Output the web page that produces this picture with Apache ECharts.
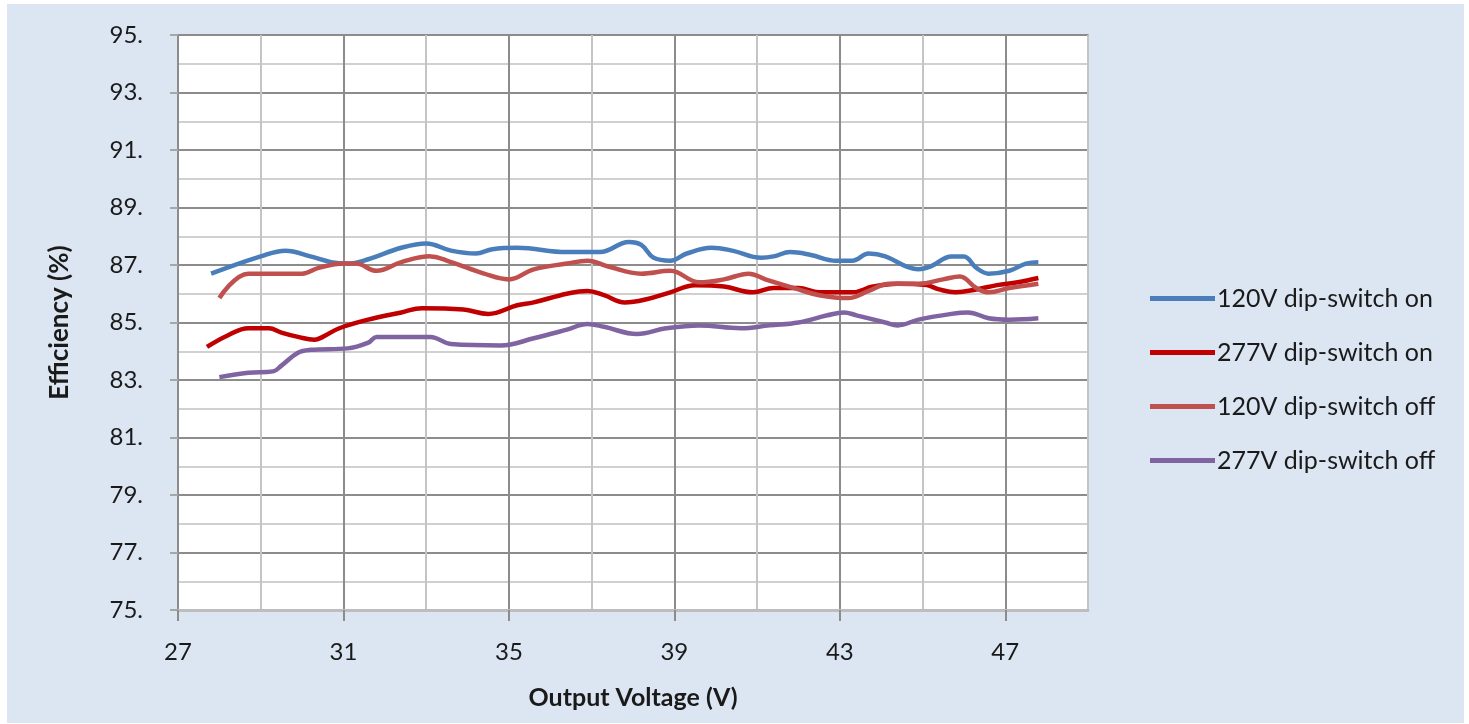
<!DOCTYPE html>
<html>
<head>
<meta charset="utf-8">
<script src="https://cdn.jsdelivr.net/npm/echarts@6/dist/echarts.min.js"></script>
<style>
  html, body { margin: 0; padding: 0; background: #fff; }
  #chart { position: absolute; left: 7px; top: 4px; width: 1457px; height: 719px; background: #dce6f2; }
</style>
</head>
<body>
<div id="chart"></div>
<script>
// tick labels
const xTicks = [27, 31, 35, 39, 43, 47];
const yTicks = [75, 77, 79, 81, 83, 85, 87, 89, 91, 93, 95];

const names = ['120V dip-switch on', '277V dip-switch on', '120V dip-switch off', '277V dip-switch off'];

// 120V dip-switch on
const on120X = [27.8, 29.0, 29.6, 30.2, 30.7, 31.1, 31.6, 32.4, 33.0, 33.6, 34.2, 34.6, 35.2, 36.4, 37.2, 37.9, 38.2, 38.5, 38.9, 39.3, 39.9, 40.4, 41.1, 41.4, 41.8, 42.3, 42.9, 43.3, 43.7, 44.1, 44.6, 44.9, 45.2, 45.7, 46.0, 46.3, 46.6, 47.1, 47.5, 47.8];
const on120Y = [86.7, 87.3, 87.5, 87.3, 87.1, 87.05, 87.2, 87.6, 87.75, 87.5, 87.4, 87.55, 87.6, 87.45, 87.45, 87.8, 87.7, 87.25, 87.15, 87.4, 87.6, 87.5, 87.25, 87.3, 87.45, 87.35, 87.15, 87.15, 87.4, 87.3, 86.95, 86.85, 86.95, 87.3, 87.3, 86.9, 86.7, 86.8, 87.05, 87.1];

// 277V dip-switch on
const on277X = [27.7, 28.2, 28.7, 29.2, 29.5, 29.9, 30.3, 30.5, 30.9, 31.6, 32.4, 32.9, 33.9, 34.5, 35.2, 35.6, 36.4, 36.9, 37.3, 37.8, 38.3, 38.9, 39.5, 40.2, 40.9, 41.4, 42.0, 42.5, 43.3, 43.8, 44.4, 45.1, 45.4, 45.8, 46.3, 46.8, 47.3, 47.8];
const on277Y = [84.15, 84.55, 84.8, 84.8, 84.65, 84.5, 84.4, 84.5, 84.8, 85.1, 85.35, 85.5, 85.45, 85.3, 85.6, 85.7, 86.0, 86.1, 85.95, 85.7, 85.8, 86.05, 86.3, 86.25, 86.05, 86.2, 86.2, 86.05, 86.05, 86.25, 86.35, 86.3, 86.15, 86.05, 86.15, 86.3, 86.4, 86.55];

// 120V dip-switch off
const off120X = [28.0, 28.7, 29.5, 30.0, 30.4, 31.0, 31.3, 31.8, 32.4, 33.1, 33.6, 34.4, 35.0, 35.6, 36.4, 36.9, 37.4, 38.2, 38.9, 39.6, 40.2, 40.8, 41.2, 42.0, 42.5, 43.2, 43.7, 44.2, 44.9, 45.5, 45.9, 46.3, 46.6, 47.1, 47.8];
const off120Y = [85.85, 86.7, 86.7, 86.7, 86.9, 87.05, 87.05, 86.8, 87.1, 87.3, 87.1, 86.7, 86.5, 86.85, 87.05, 87.15, 86.95, 86.7, 86.8, 86.4, 86.5, 86.7, 86.5, 86.15, 85.95, 85.85, 86.1, 86.35, 86.35, 86.5, 86.6, 86.2, 86.05, 86.2, 86.35];

// 277V dip-switch off
const off277X = [28.0, 28.7, 29.3, 29.5, 29.9, 30.2, 31.1, 31.6, 31.8, 33.1, 33.6, 34.8, 35.6, 36.4, 36.9, 37.3, 38.1, 38.8, 39.6, 40.6, 41.3, 42.0, 42.7, 43.1, 43.4, 44.1, 44.4, 44.9, 45.7, 46.1, 46.6, 47.1, 47.8];
const off277Y = [83.1, 83.25, 83.3, 83.5, 83.95, 84.05, 84.1, 84.3, 84.5, 84.5, 84.25, 84.2, 84.45, 84.75, 84.95, 84.85, 84.6, 84.8, 84.9, 84.8, 84.9, 85.0, 85.25, 85.35, 85.25, 85.0, 84.9, 85.1, 85.3, 85.35, 85.15, 85.1, 85.15];

const colors = ['#4a7ebb', '#c00000', '#c0504d', '#8064a2'];

function pairs(xs, ys) {
  return xs.map((x, i) => [x, ys[i]]);
}

const seriesData = [
  pairs(on120X, on120Y),
  pairs(on277X, on277Y),
  pairs(off120X, off120Y),
  pairs(off277X, off277Y)
];

const font = 'Lato, "Open Sans", sans-serif';
const labelColor = '#1a1a1a';
const chart = echarts.init(document.getElementById('chart'));

chart.setOption({
  animation: false,
  color: colors,
  textStyle: { fontFamily: font },
  grid: {
    left: 171, top: 31, width: 910, height: 575,
    show: true, backgroundColor: '#ffffff', borderColor: '#b3b3b3', borderWidth: 2
  },
  legend: {
    orient: 'vertical',
    left: 1138, top: 277,
    icon: 'rect',
    itemWidth: 65, itemHeight: 5,
    itemGap: 29,
    textStyle: { fontFamily: font, fontSize: 25, lineHeight: 25, color: labelColor, padding: [0, 0, 0, -3] },
    data: names
  },
  xAxis: [
    {
      // grid lines every 2 V
      type: 'value', min: 27, max: 49, interval: 2,
      axisLine: { show: false }, axisTick: { show: false }, axisLabel: { show: false },
      splitLine: { show: true, lineStyle: { color: ['#8c8c8c', '#c4c4c4'], width: 2 } }
    },
    {
      type: 'value', min: 27, max: 49, interval: 4, position: 'bottom',
      name: 'Output Voltage (V)',
      nameLocation: 'middle',
      nameGap: 75,
      nameTextStyle: { fontFamily: font, fontSize: 25, fontWeight: 'bold', color: labelColor },
      axisLine: { show: true, lineStyle: { color: '#bdbdbd', width: 3 } },
      axisTick: { show: true, length: 11, customValues: xTicks, lineStyle: { color: '#8c8c8c', width: 2 } },
      axisLabel: { customValues: xTicks, margin: 30, fontSize: 24, color: labelColor },
      splitLine: { show: false }
    }
  ],
  yAxis: [
    {
      // grid lines every 1 %
      type: 'value', min: 75, max: 95, interval: 1,
      axisLine: { show: false }, axisTick: { show: false }, axisLabel: { show: false },
      splitLine: { show: true, lineStyle: { color: ['#8c8c8c', '#d0d0d0'], width: 2 } }
    },
    {
      type: 'value', min: 75, max: 95, interval: 2, position: 'left',
      name: 'Efficiency (%)',
      nameLocation: 'middle',
      nameGap: 105,
      nameTextStyle: { fontFamily: font, fontSize: 26, fontWeight: 'bold', color: labelColor },
      axisLine: { show: true, lineStyle: { color: '#8c8c8c', width: 2 } },
      axisTick: { show: true, length: 8, lineStyle: { color: '#a6a6a6', width: 2 } },
      axisLabel: { margin: 35, fontSize: 24, color: labelColor, formatter: v => v + '.' },
      splitLine: { show: false }
    }
  ],
  series: names.map((n, i) => ({
    name: n,
    type: 'line',
    xAxisIndex: 0,
    yAxisIndex: 0,
    data: seriesData[i],
    showSymbol: false,
    smooth: 0.4,
    lineStyle: { width: 4.5, color: colors[i] }
  }))
});
</script>
</body>
</html>
